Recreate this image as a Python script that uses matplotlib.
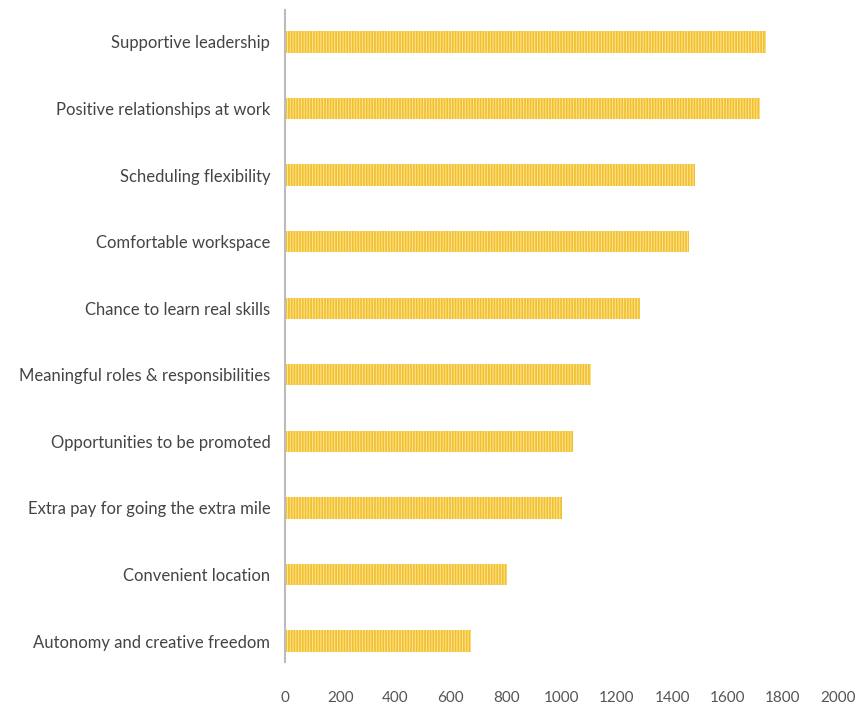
import matplotlib
matplotlib.use("Agg")
import matplotlib.pyplot as plt

categories = [
    "Supportive leadership",
    "Positive relationships at work",
    "Scheduling flexibility",
    "Comfortable workspace",
    "Chance to learn real skills",
    "Meaningful roles & responsibilities",
    "Opportunities to be promoted",
    "Extra pay for going the extra mile",
    "Convenient location",
    "Autonomy and creative freedom",
]
values = [1740, 1718, 1483, 1461, 1285, 1108, 1043, 1001, 802, 673]
xticks = [0, 200, 400, 600, 800, 1000, 1200, 1400, 1600, 1800, 2000]

plt.rcParams['font.family'] = ['Lato', 'DejaVu Sans']
plt.rcParams['hatch.linewidth'] = 0.8
plt.rcParams['hatch.color'] = '#FBE38F'

fig = plt.figure(figsize=(8.66, 7.14), dpi=100)
ax = fig.add_axes([0.329, 0.0728, 0.6387, 0.9132])

ypos = list(range(len(categories)))
ax.barh(ypos, values, height=0.32, color='#F2C02E', edgecolor='#FBE38F',
        linewidth=0, hatch='||||||')

ax.set_xlim(0, 2000)
ax.set_ylim(9.315, -0.48)
ax.set_yticks(ypos)
ax.set_yticklabels(categories, fontsize=12, color='#444444')
ax.set_xticks(xticks)
ax.set_xticklabels([str(t) for t in xticks], fontsize=11, color='#555555')
ax.tick_params(axis='y', length=0, pad=10.5)
ax.tick_params(axis='x', length=0, pad=21)
for s in ['top', 'right', 'bottom']:
    ax.spines[s].set_visible(False)
ax.spines['left'].set_color('#BBBBBB')
ax.spines['left'].set_linewidth(1.5)

fig.savefig("out.png", dpi=100)
